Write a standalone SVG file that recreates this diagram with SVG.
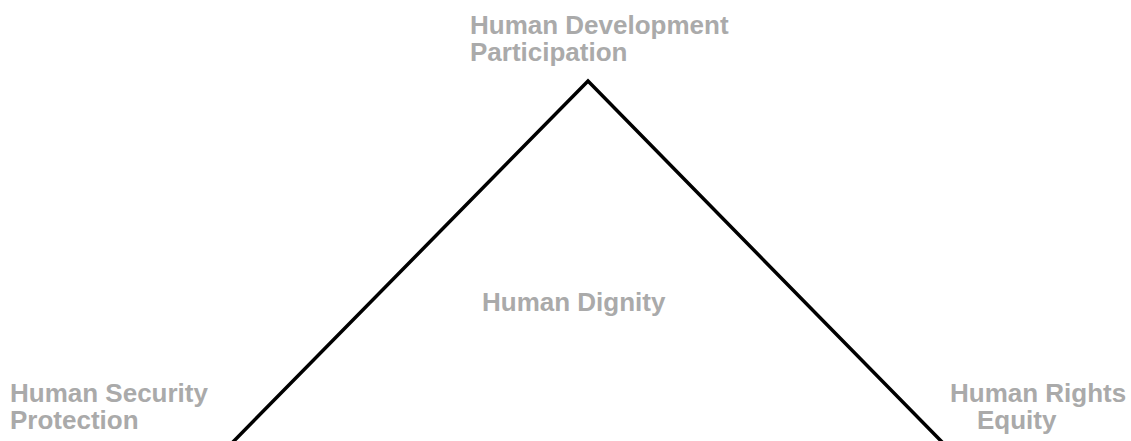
<svg xmlns="http://www.w3.org/2000/svg" width="1131" height="441" viewBox="0 0 1131 441">
  <style>
    .label { font-family: "Liberation Sans", Arial, Helvetica, sans-serif; font-weight: bold; font-size: 26px; fill: #aaaaaa; }
    .edge { fill: none; stroke: #000000; stroke-width: 3.5; stroke-linejoin: miter; }
  </style>
  <rect x="0" y="0" width="1131" height="441" fill="#ffffff"/>
  <!-- triangle sides -->
  <g id="connectors">
    <polyline class="edge" points="231,444 588,81 944,444"/>
  </g>
  <g id="node-development">
    <text class="label" x="470" y="34">Human Development</text>
    <text class="label" x="470" y="61">Participation</text>
  </g>
  <g id="node-dignity">
    <text class="label" x="482" y="311">Human Dignity</text>
  </g>
  <g id="node-security">
    <text class="label" x="10" y="402">Human Security</text>
    <text class="label" x="10" y="429">Protection</text>
  </g>
  <g id="node-rights">
    <text class="label" x="950" y="402">Human Rights</text>
    <text class="label" x="977" y="429">Equity</text>
  </g>
</svg>
